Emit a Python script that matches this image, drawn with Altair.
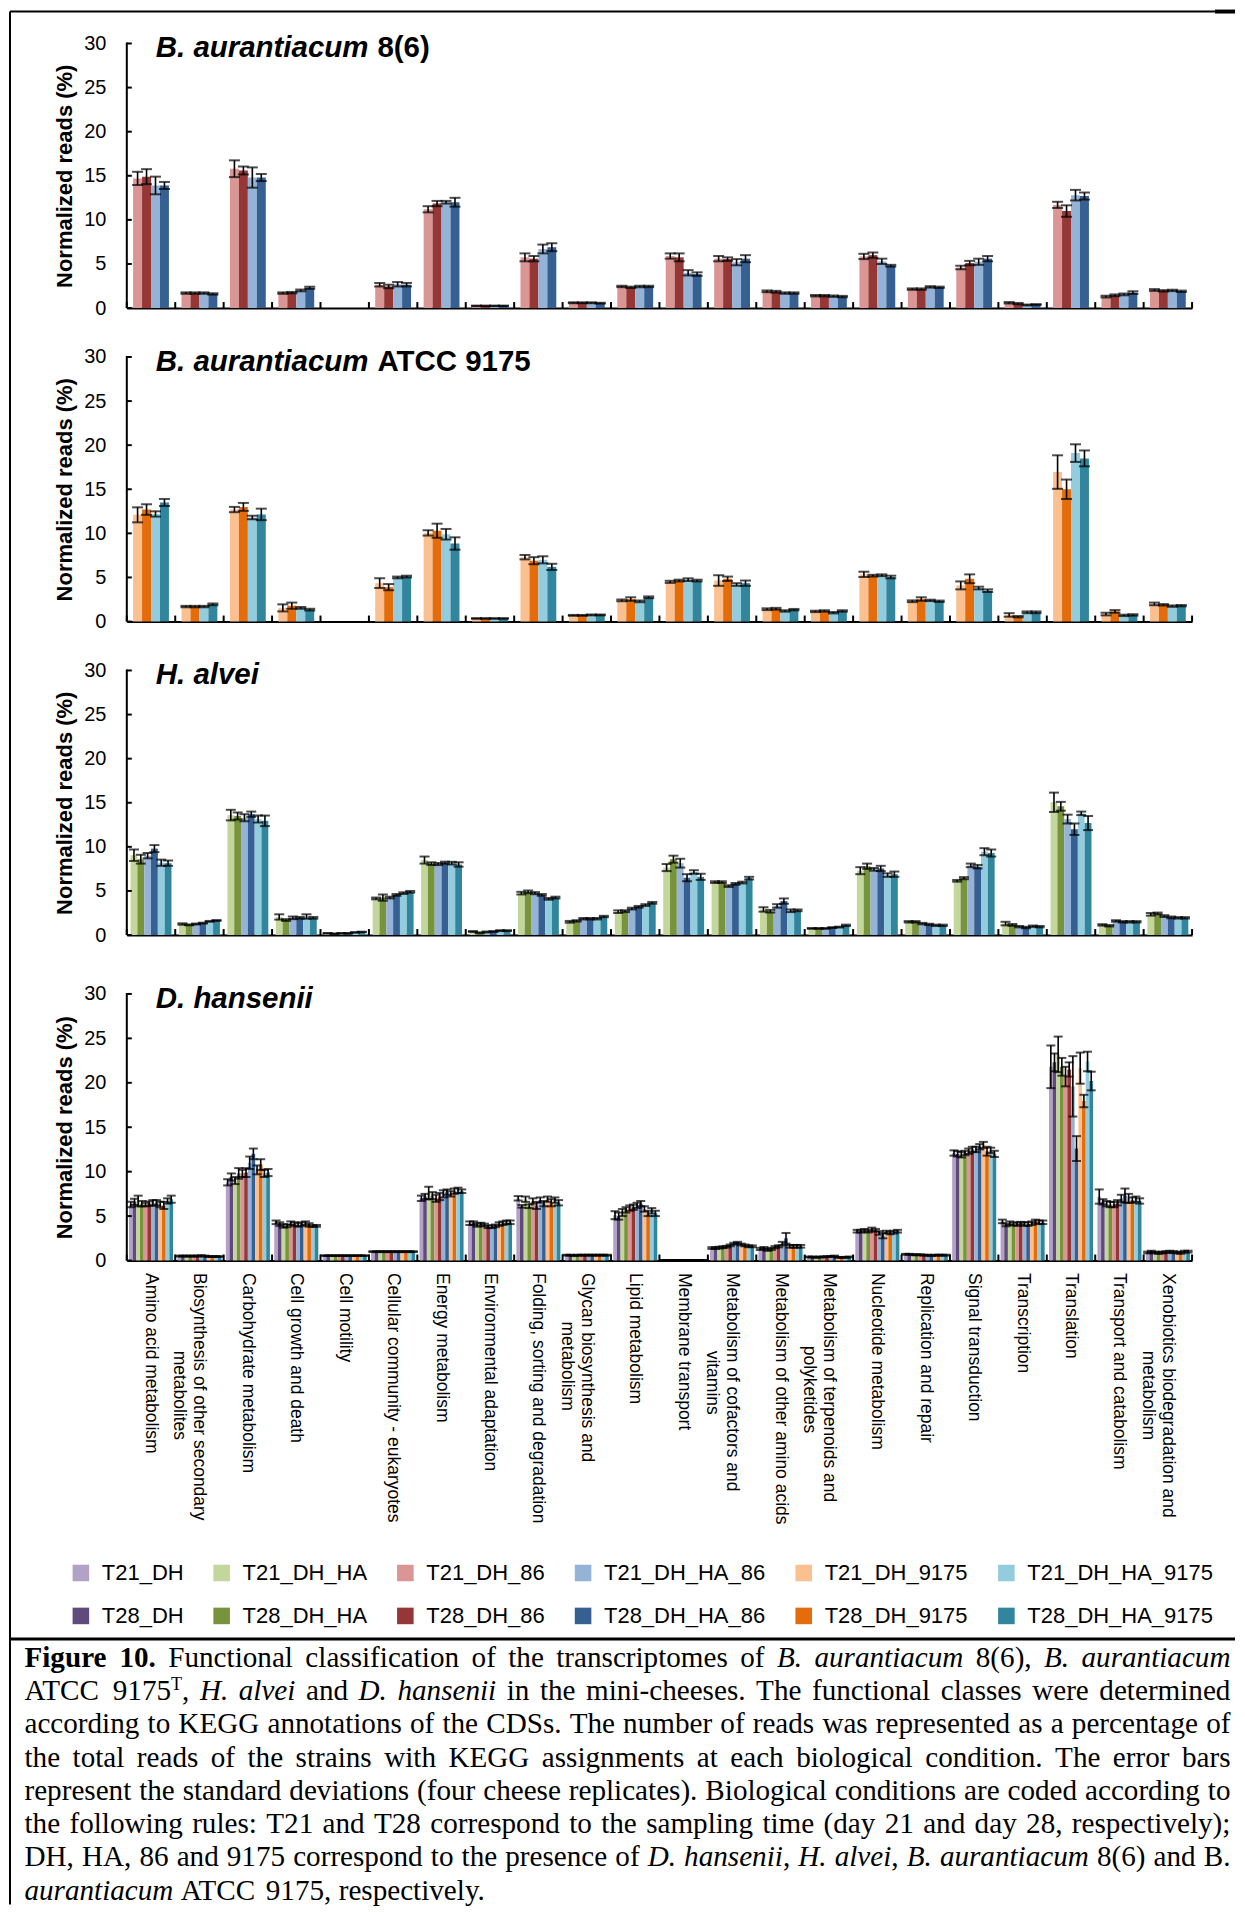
import altair as alt
import pandas as pd

NB = "\u00a0"
ZW = "\u200b"  # keeps the centring spaces from being trimmed
categories = [
    "Amino acid metabolism",
    "Biosynthesis of other secondary|" + ZW + NB * 16 + "metabolites",
    "Carbohydrate metabolism",
    "Cell growth and death",
    "Cell motility",
    "Cellular community - eukaryotes",
    "Energy metabolism",
    "Environmental adaptation",
    "Folding, sorting and degradation",
    "Glycan biosynthesis and|" + ZW + NB * 10 + "metabolism",
    "Lipid metabolism",
    "Membrane transport",
    "Metabolism of cofactors and|" + ZW + NB * 16 + "vitamins",
    "Metabolism of other amino acids",
    "Metabolism of terpenoids and|" + ZW + NB * 15 + "polyketides",
    "Nucleotide metabolism",
    "Replication and repair",
    "Signal transduction",
    "Transcription",
    "Translation",
    "Transport and catabolism",
    "Xenobiotics biodegradation and|" + ZW + NB * 16 + "metabolism",
]

series_names = ["T21_DH", "T28_DH", "T21_DH_HA", "T28_DH_HA", "T21_DH_86", "T28_DH_86",
                "T21_DH_HA_86", "T28_DH_HA_86", "T21_DH_9175", "T28_DH_9175",
                "T21_DH_HA_9175", "T28_DH_HA_9175"]
series_colors = ["#b3a2c7", "#604a7b", "#c3d69b", "#77933c", "#d99694", "#953735",
                 "#95b3d7", "#376092", "#fac090", "#e46c0a", "#93cddd", "#31859c"]
legend_order = ["T21_DH", "T21_DH_HA", "T21_DH_86", "T21_DH_HA_86", "T21_DH_9175", "T21_DH_HA_9175",
                "T28_DH", "T28_DH_HA", "T28_DH_86", "T28_DH_HA_86", "T28_DH_9175", "T28_DH_HA_9175"]
legend_colors = [series_colors[series_names.index(s)] for s in legend_order]

# ---------------- Panel 1: B. aurantiacum 8(6) ----------------
p1_order = ["T21_DH_86", "T28_DH_86", "T21_DH_HA_86", "T28_DH_HA_86"]
p1_mean = {
    "T21_DH_86":    [14.7, 1.7, 15.8, 1.7, 0, 2.65, 11.2, 0.25, 5.75, 0.6, 2.45, 5.9, 5.6, 1.9, 1.4, 5.85, 2.15, 4.6, 0.6, 11.7, 1.3, 2.05],
    "T28_DH_86":    [14.9, 1.7, 15.6, 1.75, 0, 2.45, 11.85, 0.25, 5.6, 0.6, 2.35, 5.75, 5.55, 1.85, 1.4, 6.0, 2.15, 5.1, 0.5, 11.0, 1.45, 1.95],
    "T21_DH_HA_86": [13.9, 1.7, 14.8, 2.0, 0, 2.7, 12.0, 0.25, 6.7, 0.6, 2.45, 4.0, 5.2, 1.7, 1.35, 5.3, 2.4, 5.25, 0.35, 12.8, 1.55, 2.0],
    "T28_DH_HA_86": [13.9, 1.6, 14.8, 2.3, 0, 2.65, 12.0, 0.25, 6.9, 0.55, 2.45, 3.85, 5.6, 1.7, 1.3, 4.8, 2.35, 5.6, 0.4, 12.7, 1.75, 1.9],
}
p1_sd = {
    "T21_DH_86":    [0.75, 0.08, 0.95, 0.08, 0, 0.2, 0.35, 0.03, 0.45, 0.05, 0.08, 0.3, 0.3, 0.1, 0.08, 0.3, 0.08, 0.2, 0.08, 0.35, 0.1, 0.1],
    "T28_DH_86":    [0.85, 0.08, 0.45, 0.08, 0, 0.2, 0.3, 0.03, 0.3, 0.05, 0.08, 0.45, 0.2, 0.1, 0.08, 0.3, 0.08, 0.25, 0.08, 0.65, 0.1, 0.08],
    "T21_DH_HA_86": [1.0, 0.08, 1.15, 0.1, 0, 0.25, 0.15, 0.03, 0.5, 0.05, 0.08, 0.3, 0.35, 0.08, 0.08, 0.3, 0.08, 0.35, 0.05, 0.6, 0.1, 0.08],
    "T28_DH_HA_86": [0.4, 0.08, 0.4, 0.12, 0, 0.2, 0.5, 0.03, 0.45, 0.05, 0.08, 0.2, 0.4, 0.08, 0.08, 0.1, 0.08, 0.3, 0.05, 0.4, 0.15, 0.08],
}

# ---------------- Panel 2: B. aurantiacum ATCC 9175 ----------------
p2_order = ["T21_DH_9175", "T28_DH_9175", "T21_DH_HA_9175", "T28_DH_HA_9175"]
p2_mean = {
    "T21_DH_9175":    [12.1, 1.7, 12.7, 1.55, 0, 4.35, 10.05, 0.35, 7.3, 0.7, 2.4, 4.5, 4.65, 1.4, 1.15, 5.35, 2.3, 4.1, 0.75, 16.95, 0.85, 2.0],
    "T28_DH_9175":    [12.7, 1.7, 13.0, 1.8, 0, 3.9, 10.3, 0.35, 6.9, 0.7, 2.55, 4.65, 4.85, 1.45, 1.2, 5.2, 2.55, 4.85, 0.55, 15.0, 1.15, 1.9],
    "T21_DH_HA_9175": [12.2, 1.7, 11.8, 1.55, 0, 5.0, 9.9, 0.35, 7.0, 0.75, 2.3, 4.75, 4.2, 1.2, 1.0, 5.25, 2.4, 3.8, 1.05, 19.1, 0.7, 1.75],
    "T28_DH_HA_9175": [13.5, 1.95, 12.15, 1.35, 0, 5.1, 8.85, 0.35, 6.2, 0.75, 2.75, 4.65, 4.35, 1.35, 1.2, 5.05, 2.3, 3.5, 1.05, 18.5, 0.75, 1.8],
}
p2_sd = {
    "T21_DH_9175":    [0.85, 0.08, 0.3, 0.4, 0, 0.55, 0.3, 0.03, 0.25, 0.05, 0.1, 0.12, 0.6, 0.1, 0.08, 0.3, 0.1, 0.45, 0.2, 1.9, 0.15, 0.15],
    "T28_DH_9175":    [0.6, 0.08, 0.45, 0.35, 0, 0.35, 0.8, 0.03, 0.4, 0.05, 0.2, 0.1, 0.25, 0.1, 0.08, 0.1, 0.2, 0.5, 0.08, 1.1, 0.15, 0.08],
    "T21_DH_HA_9175": [0.3, 0.08, 0.2, 0.1, 0, 0.1, 0.6, 0.03, 0.4, 0.05, 0.1, 0.15, 0.15, 0.08, 0.08, 0.1, 0.08, 0.15, 0.1, 1.0, 0.08, 0.08],
    "T28_DH_HA_9175": [0.4, 0.1, 0.65, 0.1, 0, 0.1, 0.7, 0.03, 0.35, 0.05, 0.1, 0.1, 0.3, 0.08, 0.08, 0.15, 0.08, 0.15, 0.1, 0.9, 0.08, 0.08],
}

# ---------------- Panel 3: H. alvei ----------------
p3_order = ["T21_DH_HA", "T28_DH_HA", "T21_DH_HA_86", "T28_DH_HA_86", "T21_DH_HA_9175", "T28_DH_HA_9175"]
p3_mean = {
    "T21_DH_HA":      [9.05, 1.25, 13.6, 2.05, 0.2, 4.15, 8.5, 0.4, 4.75, 1.5, 2.65, 7.65, 6.0, 2.9, 0.75, 7.3, 1.5, 6.15, 1.3, 15.05, 1.15, 2.35],
    "T28_DH_HA":      [8.6, 1.15, 13.5, 1.7, 0.15, 4.25, 8.1, 0.25, 4.9, 1.6, 2.7, 8.6, 6.0, 2.7, 0.75, 7.8, 1.5, 6.45, 1.15, 14.6, 1.05, 2.45],
    "T21_DH_HA_86":   [9.0, 1.25, 13.3, 1.95, 0.2, 4.25, 8.05, 0.35, 4.75, 1.85, 3.0, 8.15, 5.55, 3.3, 0.75, 7.45, 1.3, 7.9, 0.95, 13.15, 1.6, 2.15],
    "T28_DH_HA_86":   [9.8, 1.35, 13.7, 1.95, 0.2, 4.55, 8.2, 0.4, 4.55, 1.85, 3.2, 6.5, 5.8, 3.85, 0.85, 7.55, 1.2, 7.75, 0.85, 12.0, 1.5, 2.0],
    "T21_DH_HA_9175": [8.2, 1.55, 13.15, 2.1, 0.3, 4.75, 8.15, 0.5, 4.1, 1.85, 3.4, 7.15, 5.95, 2.75, 0.9, 6.8, 1.1, 9.45, 1.0, 13.8, 1.5, 1.95],
    "T28_DH_HA_9175": [8.15, 1.65, 12.95, 1.95, 0.35, 4.9, 8.0, 0.5, 4.25, 2.1, 3.65, 6.6, 6.45, 2.8, 1.1, 6.9, 1.1, 9.3, 0.95, 12.7, 1.5, 1.95],
}
p3_sd = {
    "T21_DH_HA":      [0.65, 0.08, 0.6, 0.3, 0.03, 0.1, 0.4, 0.05, 0.15, 0.1, 0.15, 0.4, 0.1, 0.25, 0.05, 0.4, 0.08, 0.1, 0.2, 1.1, 0.08, 0.15],
    "T28_DH_HA":      [0.5, 0.05, 0.4, 0.1, 0.03, 0.35, 0.15, 0.05, 0.15, 0.08, 0.1, 0.4, 0.1, 0.15, 0.05, 0.3, 0.08, 0.12, 0.1, 0.5, 0.08, 0.1],
    "T21_DH_HA_86":   [0.3, 0.05, 0.4, 0.15, 0.03, 0.1, 0.12, 0.05, 0.12, 0.08, 0.1, 0.5, 0.1, 0.2, 0.05, 0.15, 0.08, 0.2, 0.08, 0.5, 0.08, 0.1],
    "T28_DH_HA_86":   [0.4, 0.05, 0.3, 0.1, 0.03, 0.1, 0.12, 0.05, 0.1, 0.08, 0.1, 0.4, 0.1, 0.3, 0.05, 0.3, 0.08, 0.2, 0.08, 0.65, 0.08, 0.1],
    "T21_DH_HA_9175": [0.35, 0.05, 0.4, 0.25, 0.03, 0.1, 0.15, 0.05, 0.1, 0.08, 0.1, 0.2, 0.1, 0.15, 0.05, 0.2, 0.08, 0.4, 0.08, 0.2, 0.08, 0.08],
    "T28_DH_HA_9175": [0.3, 0.05, 0.6, 0.1, 0.03, 0.1, 0.25, 0.05, 0.1, 0.08, 0.1, 0.35, 0.15, 0.1, 0.08, 0.3, 0.08, 0.4, 0.08, 0.8, 0.08, 0.08],
}

# ---------------- Panel 4: D. hansenii ----------------
p4_order = series_names
p4_mean = {
    "T21_DH":         [6.3, 0.5, 8.8, 4.3, 0.55, 1.0, 7.0, 4.2, 7.0, 0.6, 5.1, 0.05, 1.4, 1.3, 0.4, 3.3, 0.7, 12.1, 4.4, 21.8, 7.2, 0.9],
    "T28_DH":         [6.6, 0.5, 9.4, 4.1, 0.55, 1.0, 7.2, 4.2, 6.1, 0.6, 5.0, 0.05, 1.4, 1.4, 0.4, 3.3, 0.7, 12.0, 4.0, 22.3, 6.6, 1.0],
    "T21_DH_HA":      [6.7, 0.5, 9.0, 3.9, 0.55, 1.0, 7.6, 4.0, 6.9, 0.55, 5.4, 0.05, 1.45, 1.2, 0.35, 3.4, 0.65, 11.9, 4.2, 23.2, 6.4, 0.9],
    "T28_DH_HA":      [6.4, 0.5, 9.8, 3.9, 0.55, 1.0, 7.3, 4.1, 6.1, 0.6, 5.7, 0.05, 1.5, 1.3, 0.4, 3.3, 0.65, 12.1, 4.1, 21.8, 6.3, 0.85],
    "T21_DH_86":      [6.3, 0.5, 9.8, 4.2, 0.55, 1.0, 7.0, 4.0, 6.7, 0.6, 5.9, 0.05, 1.55, 1.5, 0.4, 3.5, 0.65, 12.3, 4.1, 20.7, 6.3, 0.9],
    "T28_DH_86":      [6.4, 0.5, 9.9, 4.1, 0.55, 1.0, 7.2, 3.8, 6.2, 0.6, 6.0, 0.05, 1.7, 1.6, 0.45, 3.4, 0.6, 12.5, 4.2, 21.5, 6.5, 0.95],
    "T21_DH_HA_86":   [6.5, 0.55, 11.0, 4.0, 0.55, 1.0, 7.5, 3.8, 6.8, 0.6, 6.2, 0.05, 1.9, 1.9, 0.45, 3.1, 0.6, 12.5, 4.1, 19.6, 7.0, 1.0],
    "T28_DH_HA_86":   [6.5, 0.5, 12.0, 4.1, 0.55, 1.0, 7.7, 3.9, 6.4, 0.6, 6.4, 0.05, 2.0, 2.5, 0.5, 2.8, 0.55, 12.8, 4.1, 12.6, 7.3, 0.95],
    "T21_DH_9175":    [6.3, 0.45, 10.2, 4.2, 0.55, 1.0, 7.5, 4.1, 6.9, 0.6, 5.8, 0.05, 1.8, 1.6, 0.35, 3.2, 0.6, 13.0, 4.2, 21.65, 7.0, 0.9],
    "T28_DH_9175":    [6.2, 0.45, 10.8, 4.0, 0.55, 1.0, 7.8, 4.2, 6.5, 0.6, 5.3, 0.05, 1.7, 1.6, 0.35, 3.1, 0.6, 12.3, 4.4, 17.95, 6.8, 0.85],
    "T21_DH_HA_9175": [6.7, 0.45, 9.8, 3.9, 0.55, 1.0, 7.9, 4.3, 6.8, 0.6, 5.6, 0.05, 1.6, 1.6, 0.35, 3.2, 0.6, 12.4, 4.3, 22.4, 6.9, 1.0],
    "T28_DH_HA_9175": [6.9, 0.45, 9.9, 3.9, 0.55, 1.0, 7.8, 4.3, 6.5, 0.6, 5.3, 0.05, 1.6, 1.6, 0.4, 3.3, 0.6, 12.0, 4.3, 20.2, 6.7, 1.0],
}
p4_sd = {
    "T21_DH":         [0.3, 0.05, 0.35, 0.2, 0.03, 0.05, 0.3, 0.2, 0.25, 0.05, 0.45, 0.01, 0.1, 0.12, 0.05, 0.15, 0.05, 0.3, 0.2, 2.4, 0.8, 0.1],
    "T28_DH":         [0.35, 0.05, 0.4, 0.2, 0.03, 0.05, 0.3, 0.2, 0.15, 0.05, 0.4, 0.01, 0.1, 0.12, 0.05, 0.15, 0.05, 0.3, 0.15, 1.0, 0.3, 0.1],
    "T21_DH_HA":      [0.6, 0.05, 0.4, 0.2, 0.03, 0.05, 0.7, 0.2, 0.3, 0.05, 0.4, 0.01, 0.1, 0.12, 0.05, 0.15, 0.05, 0.3, 0.2, 2.0, 0.3, 0.1],
    "T28_DH_HA":      [0.3, 0.05, 0.6, 0.15, 0.03, 0.05, 0.4, 0.15, 0.2, 0.05, 0.3, 0.01, 0.1, 0.12, 0.05, 0.15, 0.05, 0.25, 0.15, 1.0, 0.3, 0.1],
    "T21_DH_86":      [0.2, 0.05, 0.4, 0.2, 0.03, 0.05, 0.4, 0.15, 0.3, 0.05, 0.3, 0.01, 0.1, 0.12, 0.05, 0.2, 0.05, 0.3, 0.2, 1.1, 0.3, 0.1],
    "T28_DH_86":      [0.25, 0.05, 0.5, 0.2, 0.03, 0.05, 0.4, 0.15, 0.4, 0.05, 0.3, 0.01, 0.1, 0.12, 0.05, 0.15, 0.05, 0.3, 0.15, 0.8, 0.3, 0.1],
    "T21_DH_HA_86":   [0.3, 0.05, 0.7, 0.2, 0.03, 0.05, 0.4, 0.15, 0.3, 0.05, 0.3, 0.01, 0.1, 0.2, 0.05, 0.2, 0.05, 0.3, 0.2, 3.4, 0.4, 0.1],
    "T28_DH_HA_86":   [0.3, 0.05, 0.6, 0.2, 0.03, 0.05, 0.3, 0.15, 0.3, 0.05, 0.3, 0.01, 0.1, 0.6, 0.05, 0.3, 0.05, 0.3, 0.2, 1.4, 0.8, 0.1],
    "T21_DH_9175":    [0.3, 0.05, 0.5, 0.2, 0.03, 0.05, 0.3, 0.2, 0.3, 0.05, 0.3, 0.01, 0.1, 0.15, 0.05, 0.15, 0.05, 0.35, 0.2, 1.75, 0.5, 0.1],
    "T28_DH_9175":    [0.4, 0.05, 0.6, 0.2, 0.03, 0.05, 0.3, 0.2, 0.4, 0.05, 0.3, 0.01, 0.1, 0.15, 0.05, 0.15, 0.05, 0.5, 0.2, 0.7, 0.3, 0.1],
    "T21_DH_HA_9175": [0.3, 0.05, 0.4, 0.1, 0.03, 0.05, 0.3, 0.2, 0.3, 0.05, 0.3, 0.01, 0.1, 0.15, 0.05, 0.15, 0.05, 0.3, 0.2, 1.1, 0.3, 0.1],
    "T28_DH_HA_9175": [0.4, 0.05, 0.4, 0.1, 0.03, 0.05, 0.2, 0.2, 0.3, 0.05, 0.3, 0.01, 0.1, 0.15, 0.05, 0.15, 0.05, 0.35, 0.2, 1.05, 0.3, 0.1],
}

y_ticks = [0, 5, 10, 15, 20, 25, 30]

caption_runs = [
    [("b", "Figure 10."), ("r", " Functional classification of the transcriptomes of "), ("i", "B. aurantiacum"),
     ("r", " 8(6), "), ("i", "B. aurantiacum")],
    [("r", "ATCC 9175"), ("s", "T"), ("r", ", "), ("i", "H. alvei"), ("r", " and "), ("i", "D. hansenii"),
     ("r", " in the mini-cheeses. The functional classes were determined")],
    [("r", "according to KEGG annotations of the CDSs. The number of reads was represented as a percentage of")],
    [("r", "the total reads of the strains with KEGG assignments at each biological condition. The error bars")],
    [("r", "represent the standard deviations (four cheese replicates). Biological conditions are coded according to")],
    [("r", "the following rules: T21 and T28 correspond to the sampling time (day 21 and day 28, respectively);")],
    [("r", "DH, HA, 86 and 9175 correspond to the presence of "), ("i", "D. hansenii"), ("r", ", "), ("i", "H. alvei"),
     ("r", ", "), ("i", "B. aurantiacum"), ("r", " 8(6) and B.")],
    [("i", "aurantiacum"), ("r", " ATCC 9175, respectively.")],
]

# ---------------- layout constants ----------------
W = 1067
STEP = W / len(categories)
FONT = "Liberation Sans"
SERIF = "Liberation Serif"

# Times metrics (per 1000 em) to justify the caption like the original
TR = {' ': 250, '(': 333, ')': 333, ',': 250, '-': 333, '.': 250, ':': 278, ';': 278,
      'A': 722, 'B': 667, 'C': 667, 'D': 722, 'E': 611, 'F': 556, 'G': 722, 'H': 722, 'I': 333,
      'K': 722, 'L': 611, 'M': 889, 'N': 722, 'O': 722, 'P': 556, 'R': 667, 'S': 556, 'T': 611, 'W': 944,
      'a': 444, 'b': 500, 'c': 444, 'd': 500, 'e': 444, 'f': 333, 'g': 500, 'h': 500, 'i': 278, 'j': 278,
      'k': 500, 'l': 278, 'm': 778, 'n': 500, 'o': 500, 'p': 500, 'q': 500, 'r': 333, 's': 389, 't': 278,
      'u': 500, 'v': 500, 'w': 722, 'x': 500, 'y': 500, 'z': 444}
TI = {' ': 250, '.': 250, 'B': 611, 'D': 722, 'H': 722, 'a': 500, 'c': 444, 'e': 444, 'h': 500, 'i': 278,
      'l': 278, 'm': 722, 'n': 500, 'r': 389, 's': 389, 't': 278, 'u': 500, 'v': 444}
TB = {' ': 250, '.': 250, 'F': 611, 'i': 278, 'g': 500, 'u': 556, 'r': 444, 'e': 444}
SUP = 0.62


def wid(style, s):
    tab = {"r": TR, "i": TI, "b": TB, "s": TR}[style]
    w = sum(tab.get(ch, 500) for ch in s) / 1000.0
    return w * (SUP if style == "s" else 1.0)


tokens = []
for runs in caption_runs:
    toks, pending = [], False
    for style, text in runs:
        parts = text.split(" ")
        for k, p in enumerate(parts):
            if k > 0:
                pending = True
            if p:
                toks.append([style, p, pending and len(toks) > 0])
                pending = False
    tokens.append(toks)


def natural(toks):
    return sum(wid(st, t) + (0.25 if sp else 0) for st, t, sp in toks)


CAP_LEFT, CAP_RIGHT = 23.5 - 126, 1231.5 - 126
TARGET = CAP_RIGHT - CAP_LEFT
fs = min(29.2, min(TARGET / natural(t) for t in tokens[:7]))
cap_rows = []
for li, toks in enumerate(tokens):
    nsp = sum(1 for _, _, sp in toks if sp)
    extra = (TARGET - natural(toks) * fs) / nsp if (li < 7 and nsp) else 0
    x = CAP_LEFT
    ybase = 1626 + 33.3 * li
    for st, t, sp in toks:
        if sp:
            x += 0.25 * fs + extra
        cap_rows.append(dict(x=x, y=ybase - (0.36 * fs if st == "s" else 0), t=t, st=st))
        x += wid(st, t) * fs
cap_df = pd.DataFrame(cap_rows)

legend = alt.Legend(orient="none", legendX=-57, legendY=1521, direction="horizontal", columns=6,
                    title=None, symbolType="square", symbolSize=275, symbolStrokeWidth=0,
                    symbolOpacity=1, labelFontSize=22, labelFont=FONT, labelColor="black",
                    columnPadding=27, rowPadding=21, labelOffset=10, padding=0, labelLimit=400)


def panel(order, means, sds, pad, H, top, t_it, t_rm, labels, cap):
    # H: full view height; top: empty pixels above the value 30
    rows = []
    for s in order:
        for c, m, e in zip(categories, means[s], sds[s]):
            rows.append(dict(cat=c, series=s, mean=m, lo=m - e, hi=m + e, sd=e))
    df = pd.DataFrame(rows)
    ed = df[df["sd"] > 0]
    ymax = 30.0 * H / (H - top)
    xscale = alt.Scale(domain=categories, paddingInner=pad, paddingOuter=pad / 2)
    yscale = alt.Scale(domain=[0, ymax], nice=False, zero=True)
    if labels:
        xaxis = alt.Axis(title=None, labelAngle=90, labelExpr="split(datum.label, '|')",
                         labelFontSize=17.5, labelLineHeight=20, labelPadding=12, labelLimit=400,
                         labelAlign="left", labelBaseline="middle", ticks=False,
                         domainWidth=2, domainColor="black", labelColor="black", labelFont=FONT)
    else:
        xaxis = alt.Axis(title=None, labels=False, ticks=False, domainWidth=2, domainColor="black")
    yaxis = alt.Axis(title="Normalized reads (%)", values=y_ticks, ticks=False, labelPadding=21,
                     labelFontSize=20, labelFont=FONT, labelColor="black", domain=False,
                     grid=False, titleFont=FONT, titleFontSize=22,
                     titleFontWeight="bold", titleColor="black", titleX=-62, titleY=top + (H - top) / 2,
                     titleAngle=270, titleAlign="center", titleBaseline="middle")
    X = alt.X("cat:N", scale=xscale, axis=xaxis)
    XO = alt.XOffset("series:N", scale=alt.Scale(domain=order, paddingInner=0, paddingOuter=0))
    color = alt.Color("series:N", scale=alt.Scale(domain=legend_order, range=legend_colors), legend=legend)

    bars = alt.Chart(df).mark_bar().encode(
        x=X, xOffset=XO, y=alt.Y("mean:Q", scale=yscale, axis=yaxis, stack=None), color=color)
    err = alt.Chart(ed).mark_rule(color="black", strokeWidth=1.6).encode(
        x=X, xOffset=XO, y=alt.Y("lo:Q", scale=yscale, axis=yaxis), y2="hi:Q")
    cap_hi = alt.Chart(ed).mark_tick(color="black", thickness=2, size=cap, orient="horizontal").encode(
        x=X, xOffset=XO, y=alt.Y("hi:Q", scale=yscale, axis=yaxis))
    cap_lo = alt.Chart(ed).mark_tick(color="black", thickness=2, size=cap, orient="horizontal").encode(
        x=X, xOffset=XO, y=alt.Y("lo:Q", scale=yscale, axis=yaxis))
    ytk = alt.Chart(pd.DataFrame({"v": y_ticks})).mark_rule(color="black", strokeWidth=2).encode(
        y=alt.Y("v:Q", scale=yscale, axis=yaxis), x=alt.value(0), x2=alt.value(5))
    one = pd.DataFrame({"a": [0]})
    yline = alt.Chart(one).mark_rule(color="black", strokeWidth=2).encode(
        x=alt.value(0), y=alt.value(top - 1), y2=alt.value(H))
    xtk = alt.Chart(pd.DataFrame({"cat": categories})).mark_rule(
        color="black", strokeWidth=2, xOffset=-STEP * pad / 2).encode(
        x=alt.X("cat:N", scale=xscale, axis=xaxis, bandPosition=0), y=alt.value(H - 6), y2=alt.value(H))
    xend = alt.Chart(one).mark_rule(color="black", strokeWidth=2).encode(
        x=alt.value(W), y=alt.value(H - 6), y2=alt.value(H))
    t1 = alt.Chart(one).mark_text(text=t_it, font=FONT, fontSize=29.5, fontWeight="bold", fontStyle="italic",
                                  align="left", baseline="alphabetic", color="black").encode(
        x=alt.value(29), y=alt.value(top + 14))
    layers = [bars, err, cap_hi, cap_lo, ytk, yline, xtk, xend, t1]
    if t_rm:
        t2 = alt.Chart(one).mark_text(text=t_rm, font=FONT, fontSize=29.5, fontWeight="bold",
                                      align="left", baseline="alphabetic", color="black").encode(
            x=alt.value(251), y=alt.value(top + 14))
        layers.append(t2)
    return alt.layer(*layers).properties(width=W, height=H)


p1 = panel(p1_order, p1_mean, p1_sd, 0.26, 265, 0, "B. aurantiacum", "8(6)", False, 11)
p2 = panel(p2_order, p2_mean, p2_sd, 0.26, 265, 0, "B. aurantiacum", "ATCC 9175", False, 11)
p3 = panel(p3_order, p3_mean, p3_sd, 0.155, 265, 0, "H. alvei", None, False, 10)
p4 = panel(p4_order, p4_mean, p4_sd, 0.09, 277, 10, "D. hansenii", None, True, 9)

# frame and caption, drawn relative to panel 1
one = pd.DataFrame({"a": [0]})
LX, RX = -117, 1110
frame = [
    alt.Chart(one).mark_rule(color="black", strokeWidth=2).encode(
        x=alt.value(LX), x2=alt.value(RX), y=alt.value(-32)),
    alt.Chart(one).mark_rule(color="black", strokeWidth=4).encode(
        x=alt.value(1090), x2=alt.value(RX), y=alt.value(-32)),
    alt.Chart(one).mark_rule(color="black", strokeWidth=2).encode(
        x=alt.value(LX), y=alt.value(-32), y2=alt.value(1864)),
    alt.Chart(one).mark_rule(color="black", strokeWidth=3).encode(
        x=alt.value(LX), x2=alt.value(RX), y=alt.value(1598)),
]
cap_layers = []
for st, props in [("r", {}), ("i", {"fontStyle": "italic"}), ("b", {"fontWeight": "bold"}),
                  ("s", {"fontSize": fs * SUP})]:
    sub = cap_df[cap_df["st"] == st]
    if len(sub) == 0:
        continue
    kw = dict(font=SERIF, fontSize=fs, align="left", baseline="alphabetic", color="black")
    kw.update(props)
    cap_layers.append(alt.Chart(sub).mark_text(**kw).encode(
        x=alt.X("x:Q", scale=None, axis=None), y=alt.Y("y:Q", scale=None, axis=None), text="t:N"))

p1_full = alt.layer(p1, *frame, *cap_layers).resolve_scale(x="independent", y="independent")

chart = alt.VConcatChart(vconcat=[p1_full, p2, p3, p4], spacing=49, bounds="flush").resolve_scale(
    x="independent", y="independent", xOffset="independent", color="shared").properties(
    padding=0).configure_view(stroke=None).configure_axis(grid=False)

chart.save("out.html", embed_options={"renderer": "svg", "actions": False})
